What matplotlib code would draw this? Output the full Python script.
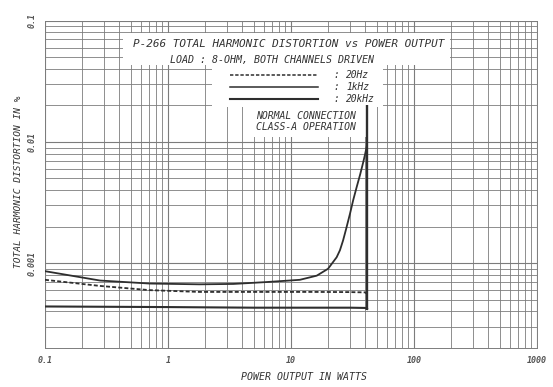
import matplotlib
matplotlib.use("Agg")
import matplotlib.pyplot as plt
from matplotlib.patches import Rectangle
from matplotlib.ticker import LogLocator, FixedLocator, NullFormatter

# ---- data ----
x_ticks = [0.1, 1, 10, 100, 1000]
x_tick_labels = ["0.1", "1", "10", "100", "1000"]
y_ticks = [0.001, 0.01, 0.1]
y_tick_labels = ["0.001", "0.01", "0.1"]

p_20k = [0.1, 0.28, 0.71, 1.8, 3.4, 6.4, 11.8, 16.2, 20.0, 23.5, 25.0, 26.5, 28.0,
         30.2, 32.0, 34.2, 36.5, 38.7, 40.0, 41.2]
thd_20k = [0.00086, 0.00072, 0.00068, 0.00067, 0.000675, 0.0007, 0.00073, 0.00079,
           0.0009, 0.00112, 0.00128, 0.00154, 0.0019, 0.00257, 0.0033, 0.00425,
           0.0054, 0.00684, 0.0079, 0.0091]

p_20hz = [0.1, 0.28, 0.71, 1.8, 5.0, 15.0, 30.0, 40.0, 41.5]
thd_20hz = [0.00073, 0.00065, 0.0006, 0.00058, 0.00058, 0.00058, 0.000578, 0.000575, 0.00056]

p_1k = [0.1, 1.0, 5.0, 15.0, 30.0, 40.0, 41.5]
thd_1k = [0.00044, 0.000435, 0.00043, 0.00043, 0.00043, 0.000428, 0.00042]

clip_power = 41.5
clip_thd = [0.00041, 0.02]

series_labels = ["20Hz", "1kHz", "20kHz"]

# ---- figure ----
W, H = 553, 387
fig = plt.figure(figsize=(W / 100, H / 100), dpi=100)
fig.patch.set_facecolor("white")

def fx(px):
    return px / W

def fy(py):
    return 1 - py / H

ax = fig.add_axes([fx(45), fy(348), fx(537) - fx(45), fy(20.7) - fy(348)])
ax.set_xscale("log")
ax.set_yscale("log")
ax.set_xlim(0.1, 1000)
ax.set_ylim(0.0002, 0.1)

gridc = "#7c7c7c"
ax.xaxis.set_major_locator(FixedLocator(x_ticks))
ax.yaxis.set_major_locator(FixedLocator(y_ticks))
ax.xaxis.set_minor_locator(LogLocator(base=10, subs=range(2, 10), numticks=20))
ax.yaxis.set_minor_locator(LogLocator(base=10, subs=range(2, 10), numticks=20))
ax.xaxis.set_minor_formatter(NullFormatter())
ax.yaxis.set_minor_formatter(NullFormatter())
ax.grid(True, which="major", color=gridc, lw=0.8)
ax.grid(True, which="minor", color=gridc, lw=0.6)
ax.tick_params(which="both", length=0)
for s in ax.spines.values():
    s.set_color(gridc)
    s.set_linewidth(0.7)

tick_font = dict(family="DejaVu Sans Mono", style="italic", weight="bold",
                 size=6, color="#555555")
ax.set_xticklabels(x_tick_labels, **tick_font)
ax.set_yticklabels(y_tick_labels, rotation=90, va="center", **tick_font)
ax.tick_params(axis="x", pad=6)
ax.tick_params(axis="y", pad=6)

# white boxes over the grid (text areas)
for (x0, y0, x1, y1) in [(123, 33, 450, 65), (212, 65, 383, 107), (245, 107, 368, 137)]:
    ax.add_patch(Rectangle((fx(x0), fy(y1)), fx(x1) - fx(x0), fy(y0) - fy(y1),
                           transform=fig.transFigure, facecolor="white",
                           edgecolor="none", zorder=2.5))

linec = "#2e2e2e"
ax.plot(p_20hz, thd_20hz, color=linec, lw=1.3, ls=(0, (2.2, 1.2)), zorder=3)
ax.plot(p_1k, thd_1k, color=linec, lw=1.5, zorder=3)
ax.plot(p_20k, thd_20k, color=linec, lw=1.3, zorder=3)
ax.vlines(clip_power, clip_thd[0], clip_thd[1], color=linec, lw=1.7, zorder=3)

txt = dict(family="DejaVu Sans Mono", style="italic", color="#333333")
fig.text(fx(289), fy(44), "P-266 TOTAL HARMONIC DISTORTION vs POWER OUTPUT",
         ha="center", va="center", size=7.9, **txt)
fig.text(fx(272), fy(60), "LOAD : 8-OHM, BOTH CHANNELS DRIVEN",
         ha="center", va="center", size=7.2, **txt)

# legend
leg_y = [75, 87, 99]
leg_styles = [dict(ls=(0, (2.2, 1.2)), lw=1.1), dict(ls="-", lw=1.1), dict(ls="-", lw=1.5)]
for yy, lab, st in zip(leg_y, series_labels, leg_styles):
    fig.add_artist(plt.Line2D([fx(230), fx(318)], [fy(yy), fy(yy)],
                              transform=fig.transFigure, color=linec, zorder=4, **st))
    fig.text(fx(333), fy(yy), ":", ha="left", va="center", size=6.9, **txt)
    fig.text(fx(346), fy(yy), lab, ha="left", va="center", size=6.9, **txt)

fig.text(fx(306), fy(116), "NORMAL CONNECTION", ha="center", va="center",
         size=7.0, **txt)
fig.text(fx(306), fy(127), "CLASS-A OPERATION", ha="center", va="center",
         size=7.0, **txt)

fig.text(fx(19), fy(182), "TOTAL HARMONIC DISTORTION IN %", rotation=90,
         ha="center", va="center", size=6.8, **txt)
fig.text(fx(304), fy(377), "POWER OUTPUT IN WATTS", ha="center", va="center",
         size=7.1, **txt)

fig.savefig("out.png", dpi=100, facecolor="white")
